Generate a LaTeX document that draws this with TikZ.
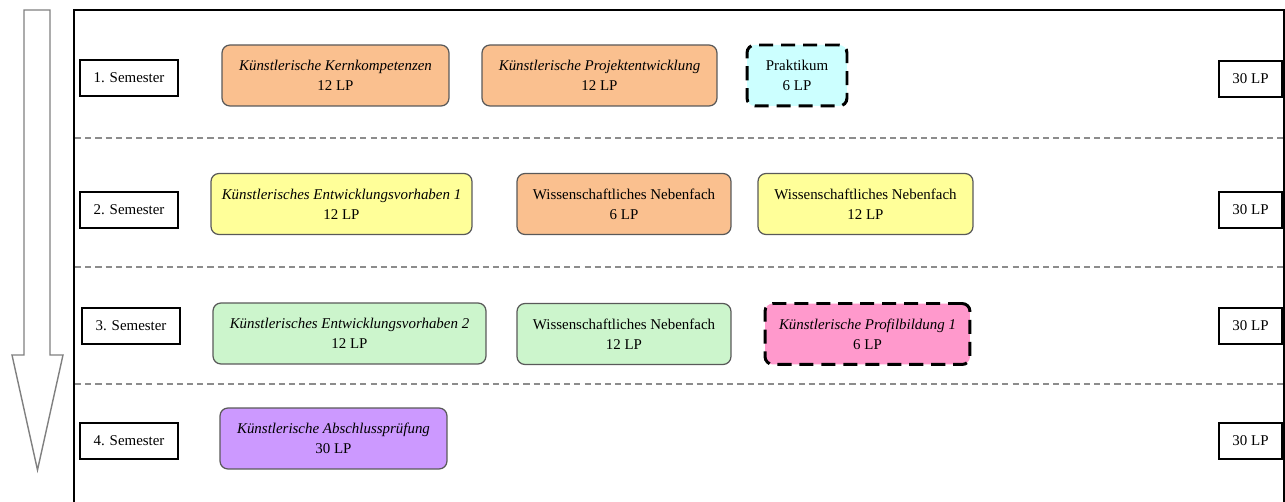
\documentclass[tikz,border=0pt]{standalone}
\usepackage{fontspec}
\setmainfont{Liberation Serif}
\usepackage{tikz}
\usetikzlibrary{positioning}
\definecolor{peach}{HTML}{FAC08F}
\definecolor{lemon}{HTML}{FFFF99}
\definecolor{mint}{HTML}{CCF5CC}
\definecolor{ice}{HTML}{CCFFFF}
\definecolor{rose}{HTML}{FF99CC}
\definecolor{lilac}{HTML}{CC99FF}
\tikzset{
  sem/.style={draw=black,line width=1.1pt,minimum width=1.96cm,minimum height=0.72cm,inner sep=0pt},
  lp/.style={draw=black,line width=1.1pt,minimum width=1.26cm,minimum height=0.72cm,inner sep=0pt},
  modul/.style={draw=black!65,line width=0.7pt,rounded corners=4.5pt,minimum height=1.22cm,align=center,inner sep=0pt},
  wahl/.style={modul,draw=black,line width=1.7pt,dash pattern=on 8pt off 4.5pt},
  trenn/.style={draw=black!45,line width=1.1pt,dash pattern=on 3.5pt off 2.3pt}
}
\begin{document}
\begin{tikzpicture}[x=0.02cm, y=-0.02cm, font=\fontsize{8.5}{11.5}\selectfont]
   \useasboundingbox (0,0) rectangle (1285,502);
   % Zeitpfeil
   \draw[draw=black!50,line width=0.8pt,fill=white]
     (24,10) -- (50,10) -- (50,355) -- (63,355) -- (37.5,470) -- (12,355) -- (24,355) -- cycle;
   % Rahmen
   \draw[line width=1.1pt] (74,502) -- (74,10) -- (1284,10) -- (1284,502);
   \draw[trenn] (75,138) -- (1283,138);
   \draw[trenn] (75,267) -- (1283,267);
   \draw[trenn] (75,384) -- (1283,384);
   % Semester
   \begin{scope}[every node/.style={sem}]
    \node (s1) at (129,78) {1. Semester};
    \node (s2) at (129,210) {2. Semester};
    \node (s3) at (131,326) {3. Semester};
    \node (s4) at (129,441) {4. Semester};
   \end{scope}
   \begin{scope}[every node/.style={lp}]
    \node (lp1) at (1250.5,79) {30 LP};
    \node (lp2) at (1250.5,210) {30 LP};
    \node (lp3) at (1250.5,326) {30 LP};
    \node (lp4) at (1250.5,441) {30 LP};
   \end{scope}
   % Module
   \node (k1) at (335.5,75.5) [modul,fill=peach,minimum width=4.54cm] {\textit{Künstlerische Kernkompetenzen}\\12 LP};
   \node (k2) at (599.5,75.5) [modul,fill=peach,minimum width=4.70cm] {\textit{Künstlerische Projektentwicklung}\\12 LP};
   \node (k3) at (797,75.5) [wahl,fill=ice,minimum width=2.00cm] {Praktikum\\6 LP};
   \node (e1) at (341.5,204) [modul,fill=lemon,minimum width=5.22cm] {\textit{Künstlerisches Entwicklungsvorhaben 1}\\12 LP};
   \node (n1) at (624,204) [modul,fill=peach,minimum width=4.28cm] {Wissenschaftliches Nebenfach\\6 LP};
   \node (n2) at (865.5,204) [modul,fill=lemon,minimum width=4.30cm] {Wissenschaftliches Nebenfach\\12 LP};
   \node (e2) at (349.5,333.5) [modul,fill=mint,minimum width=5.46cm] {\textit{Künstlerisches Entwicklungsvorhaben 2}\\12 LP};
   \node (n3) at (624,334) [modul,fill=mint,minimum width=4.28cm] {Wissenschaftliches Nebenfach\\12 LP};
   \node (p1) at (867.5,334) [wahl,fill=rose,minimum width=4.10cm] {\textit{Künstlerische Profilbildung 1}\\6 LP};
   \node (a1) at (333.5,438.5) [modul,fill=lilac,minimum width=4.54cm] {\textit{Künstlerische Abschlussprüfung}\\30 LP};
\end{tikzpicture}
\end{document}
